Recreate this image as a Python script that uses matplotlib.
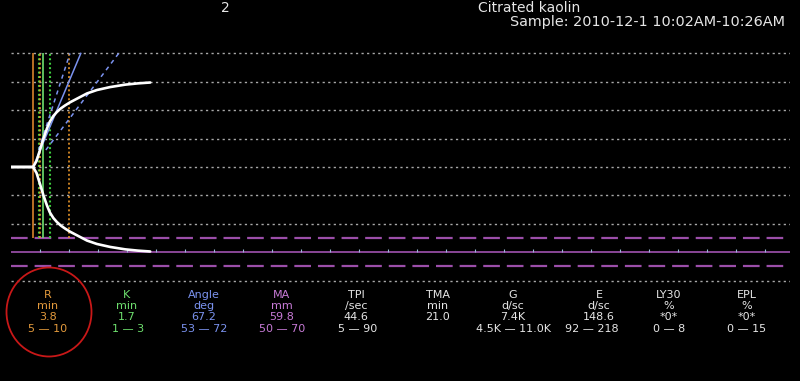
import numpy as np
import matplotlib
matplotlib.use("Agg")
import matplotlib.pyplot as plt
from matplotlib.patches import Ellipse

plt.rcParams['lines.scale_dashes'] = False
plt.rcParams['font.family'] = ['DejaVu Sans']

# TEG trace: time (min) vs amplitude (mm, full width)
t_trace = [0, 3.8, 4.4, 5.0, 5.6, 6.2, 6.7, 7.3, 7.9, 8.6, 9.3, 10.2, 11.6, 13.1,
           14.8, 17.1, 19.7, 21.9, 24.0]
amp_trace = [0, 0, 4.2, 12.0, 20.1, 27.1, 32.0, 35.9, 38.7, 41.3, 43.3, 45.6, 48.6,
             51.8, 54.2, 56.3, 58.0, 58.9, 59.5]

r_time = 3.8
k_time = 1.7
alpha = 67.2
r_range = [5, 10]
k_range = [1, 3]
alpha_range = [53, 72]
ma_range = [50, 70]
ma_mid = 60
grid_levels = [40, 30, 20, 10, 0, -10, -20, -40]   # half amplitude, mm
tick_times = [5, 10, 15, 20, 25, 30, 35, 40, 45, 50, 55, 60, 65, 70, 75,
              80, 85, 90, 95, 100, 105, 110, 115, 120, 125, 130]

names = ["R", "K", "Angle", "MA", "TPI", "TMA", "G", "E", "LY30", "EPL"]
units = ["min", "min", "deg", "mm", "/sec", "min", "d/sc", "d/sc", "%", "%"]
values = ["3.8", "1.7", "67.2", "59.8", "44.6", "21.0", "7.4K", "148.6", "*0*", "*0*"]
norms = ["5 \u2014 10", "1 \u2014 3", "53 \u2014 72", "50 \u2014 70", "5 \u2014 90", "",
         "4.5K \u2014 11.0K", "92 \u2014 218", "0 \u2014 8", "0 \u2014 15"]

col_x = [48, 127, 204, 282, 356, 438, 513, 599, 669, 747]
norm_x = [48, 128, 204, 282, 358, 438, 513, 592, 669, 747]
orange = '#e39a3c'
green = '#6ee06e'
blue = '#7b93f0'
violet = '#c77ad6'
white = '#e6e6e6'
col_colors = [orange, green, blue, violet, white, white, white, white, white, white]

W, H = 800, 381
fig = plt.figure(figsize=(8, 3.81), dpi=100, facecolor='black')
ax_l, ax_r, ax_t, ax_b = 11, 790, 50, 284
ax = fig.add_axes([ax_l / W, (H - ax_b) / H, (ax_r - ax_l) / W, (ax_b - ax_t) / H])
ax.set_facecolor('black')
ax.axis('off')
ax.set_xlim(0, (ax_r - ax_l) / 5.8)
ax.set_ylim(-41.2, 41.2)

for g in grid_levels:
    ax.axhline(g, color='#a8a8a8', lw=1, ls=(0, (1.6, 2.4)))

ax.axhline(-ma_range[0] / 2, color='#9b4ea9', lw=1.6, ls=(0, (12, 5)))
ax.axhline(-ma_range[1] / 2, color='#9b4ea9', lw=1.6, ls=(0, (12, 5)))
ax.axhline(-ma_mid / 2, color='#a052b0', lw=1.2)
ax.vlines(tick_times, -ma_mid / 2, -ma_mid / 2 + 1.1, color='#9ab8d8', lw=0.8)

top = 40
bot = -ma_range[0] / 2
ax.vlines(r_time, bot, top, color='#d9822b', lw=1.2)
ax.vlines([r_time + k for k in k_range], bot, top, color='#3fcf3f', lw=1.5, ls=(0, (1.4, 1.8)))
ax.vlines(r_range, bot, top, color='#e8962a', lw=1.2, ls=(0, (1.4, 1.8)))
ax.vlines(r_time + k_time, bot, top, color=green, lw=1.2)

# angle lines drawn in screen proportions
sx = (ax_r - ax_l) / (ax.get_xlim()[1] - ax.get_xlim()[0])
sy = (ax_b - ax_t) / (ax.get_ylim()[1] - ax.get_ylim()[0])
for a, style, y0 in [(alpha, '-', 0), (alpha_range[0], (0, (3, 3)), 6), (alpha_range[1], (0, (3, 3)), 6)]:
    slope = np.tan(np.radians(a)) * sx / sy
    ax.plot([r_time + y0 / slope, r_time + top / slope], [y0, top], color=blue, lw=1.1, ls=style)

half = np.array(amp_trace) / 2
ax.plot(t_trace, half, color='white', lw=1.9, solid_capstyle='round', solid_joinstyle='round')
ax.plot(t_trace, -half, color='white', lw=1.9, solid_capstyle='round', solid_joinstyle='round')


def ftxt(x, y, s, **kw):
    fig.text(x / W, 1 - y / H, s, va='baseline', **kw)


ftxt(225, 12, "2", color=white, fontsize=10, ha='center')
ftxt(478, 12, "Citrated kaolin", color=white, fontsize=10, ha='left')
ftxt(510, 26, "Sample: 2010-12-1 10:02AM-10:26AM", color=white, fontsize=10.4, ha='left')

row_y = [298, 309.3, 320.5, 331.7]
for i in range(len(names)):
    c = col_colors[i]
    ftxt(col_x[i], row_y[0], names[i], color=c, fontsize=8, ha='center')
    ftxt(col_x[i], row_y[1], units[i], color=c, fontsize=8, ha='center')
    ftxt(col_x[i], row_y[2], values[i], color=c, fontsize=8, ha='center')
    ftxt(norm_x[i], row_y[3], norms[i], color=c, fontsize=8, ha='center')

ell = Ellipse((49 / W, 1 - 312 / H), 85 / W, 89 / H, transform=fig.transFigure,
              fill=False, edgecolor='#c81818', lw=1.3)
fig.add_artist(ell)

fig.savefig("out.png", dpi=100, facecolor='black')
